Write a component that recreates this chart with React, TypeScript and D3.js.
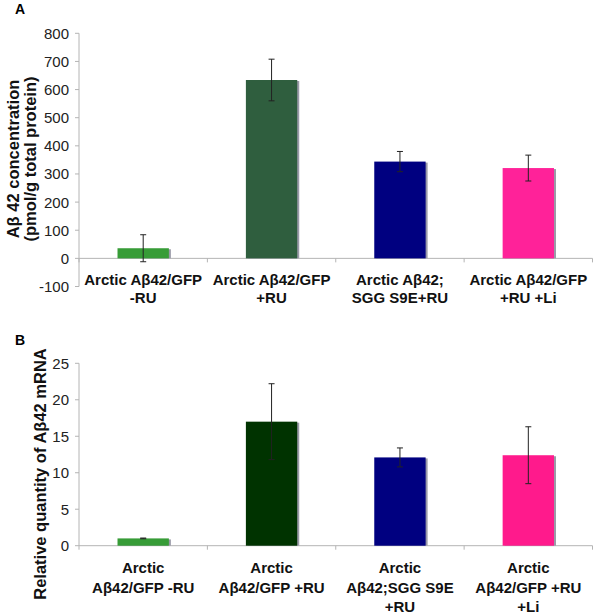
import React from "react";
import * as d3 from "d3";

const categoriesA: string[][] = [
  ["Arctic Aβ42/GFP", "-RU"],
  ["Arctic Aβ42/GFP", "+RU"],
  ["Arctic Aβ42;", "SGG S9E+RU"],
  ["Arctic Aβ42/GFP", "+RU +Li"],
];
const valuesA = [36, 634, 344, 321];
const errorsA = [48, 74, 36, 46];
const colorsA = ["#379c37", "#2f5e3e", "#000080", "#ff2299"];
const ticksA = [-100, 0, 100, 200, 300, 400, 500, 600, 700, 800];

const categoriesB: string[][] = [
  ["Arctic", "Aβ42/GFP -RU"],
  ["Arctic", "Aβ42/GFP +RU"],
  ["Arctic", "Aβ42;SGG S9E", "+RU"],
  ["Arctic", "Aβ42/GFP +RU", "+Li"],
];
const valuesB = [1.0, 17.0, 12.1, 12.4];
const errorsB = [0.05, 5.2, 1.3, 3.9];
const colorsB = ["#379c37", "#003300", "#000080", "#ff1a8c"];
const ticksB = [0, 5, 10, 15, 20, 25];

const FONT = "'Liberation Sans', Arial, Helvetica, sans-serif";
const AXIS = "#b4b4b4";

type PanelProps = {
  label: string;
  labelY: number;
  cats: string[][];
  values: number[];
  errors: number[];
  colors: string[];
  ticks: number[];
  domain: [number, number];
  range: [number, number];
  titleLines: string[];
  titleX: number[];
  titleSize: number;
  titleCenter: number;
  catBaseline: number;
  catLineH: number;
};

function Panel(p: PanelProps) {
  const x = d3
    .scaleBand<number>()
    .domain(p.values.map((_, i) => i))
    .range([79, 592.5])
    .paddingInner(0.6)
    .paddingOuter(0.3);
  const y = d3.scaleLinear().domain(p.domain).range(p.range);
  const y0 = y(0);
  const bw = x.bandwidth();
  const step = x.step();
  const boundaries = d3.range(p.values.length + 1).map((i) => 79 + i * step);
  return (
    <g>
      <text x={15} y={p.labelY} fontFamily={FONT} fontWeight="bold" fontSize={14}>
        {p.label}
      </text>
      {/* y axis */}
      <line x1={79} x2={79} y1={y(p.domain[0])} y2={y(p.domain[1])} stroke={AXIS} />
      {p.ticks.map((t) => (
        <g key={t}>
          <line x1={75} x2={79} y1={y(t)} y2={y(t)} stroke={AXIS} />
          <text
            x={69}
            y={y(t)}
            dy="0.36em"
            textAnchor="end"
            fontFamily={FONT}
            fontSize={15}
            fill="#222"
          >
            {t}
          </text>
        </g>
      ))}
      {/* category axis */}
      <line x1={79} x2={592.5} y1={y0} y2={y0} stroke={AXIS} />
      {boundaries.map((bx, i) => (
        <line key={i} x1={bx} x2={bx} y1={y0} y2={y0 + 4} stroke={AXIS} />
      ))}
      {/* bars */}
      {p.values.map((v, i) => {
        const bx = x(i)!;
        const top = Math.min(y(v), y0);
        const h = Math.abs(y0 - y(v));
        const cx = bx + bw / 2;
        return (
          <g key={i}>
            <rect x={bx + 2} y={top + 1} width={bw} height={h - 1} fill="#9a9aa8" />
            <rect x={bx} y={top} width={bw} height={h} fill={p.colors[i]} />
            <line x1={cx} x2={cx} y1={y(v + p.errors[i])} y2={y(v - p.errors[i])} stroke="#222" strokeWidth={1} />
            <line x1={cx - 3} x2={cx + 3} y1={y(v + p.errors[i])} y2={y(v + p.errors[i])} stroke="#222" />
            <line x1={cx - 3} x2={cx + 3} y1={y(v - p.errors[i])} y2={y(v - p.errors[i])} stroke="#222" />
          </g>
        );
      })}
      {/* category labels */}
      {p.cats.map((lines, i) => (
        <text
          key={i}
          textAnchor="middle"
          fontFamily={FONT}
          fontWeight="bold"
          fontSize={15}
          fill="#111"
        >
          {lines.map((l, j) => (
            <tspan key={j} x={x(i)! + bw / 2} y={p.catBaseline + j * p.catLineH}>
              {l}
            </tspan>
          ))}
        </text>
      ))}
      {/* y title */}
      {p.titleLines.map((t, j) => (
        <text
          key={j}
          transform={`translate(${p.titleX[j]},${p.titleCenter}) rotate(-90)`}
          textAnchor="middle"
          fontFamily={FONT}
          fontWeight="bold"
          fontSize={p.titleSize}
          fill="#111"
        >
          {t}
        </text>
      ))}
    </g>
  );
}

export default function App() {
  return (
    <svg
      width={596}
      height={615}
      style={{ position: "absolute", left: 0, top: 0, background: "#fff" }}
    >
      <rect width={596} height={615} fill="#fff" />
      <Panel
        label="A"
        labelY={14}
        cats={categoriesA}
        values={valuesA}
        errors={errorsA}
        colors={colorsA}
        ticks={ticksA}
        domain={[-100, 800]}
        range={[286.5, 33.3]}
        titleLines={["Aβ 42 concentration", "(pmol/g total protein)"]}
        titleX={[19, 36]}
        titleSize={16.5}
        titleCenter={159}
        catBaseline={285}
        catLineH={18}
      />
      <Panel
        label="B"
        labelY={345}
        cats={categoriesB}
        values={valuesB}
        errors={errorsB}
        colors={colorsB}
        ticks={ticksB}
        domain={[0, 25]}
        range={[545.7, 363.3]}
        titleLines={["Relative quantity of Aβ42 mRNA"]}
        titleX={[46]}
        titleSize={16.5}
        titleCenter={474}
        catBaseline={573}
        catLineH={19.5}
      />
    </svg>
  );
}
